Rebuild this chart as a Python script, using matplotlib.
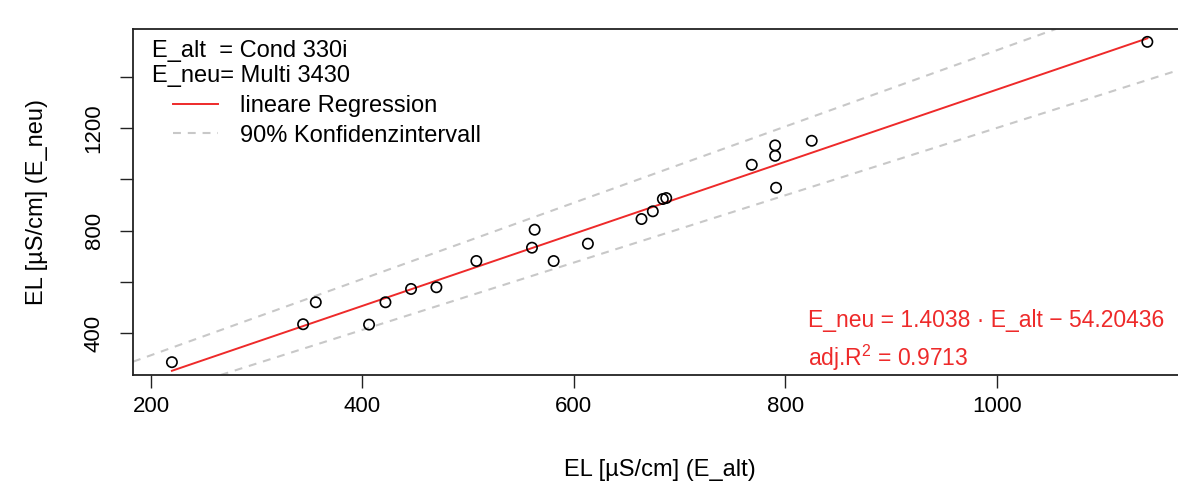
import matplotlib
matplotlib.use('Agg')
import matplotlib.pyplot as plt
import numpy as np
from matplotlib.lines import Line2D

plt.rcParams['font.family'] = ['Liberation Sans', 'DejaVu Sans']
plt.rcParams['mathtext.fontset'] = 'custom'
plt.rcParams['mathtext.rm'] = 'Liberation Sans'
plt.rcParams['mathtext.it'] = 'Liberation Sans:italic'

# Messwerte: EL alt (Cond 330i) vs. EL neu (Multi 3430)
e_alt = [219.8, 343.9, 355.9, 406.3, 421.8, 446.0, 470.0, 507.8, 560.4, 562.9, 580.9,
         613.3, 664.0, 674.7, 684.2, 687.4, 768.3, 790.4, 790.4, 791.3, 825.0, 1142.5]
e_neu = [288.0, 435.8, 521.4, 434.3, 521.4, 573.2, 579.8, 682.2, 734.0, 804.0, 682.0,
         749.6, 845.7, 875.7, 923.6, 927.4, 1057.0, 1132.6, 1092.0, 967.5, 1150.5, 1535.9]

# lineare Regression (Koeffizienten aus der Grafik)
slope = 1.4038
intercept = -54.20436
adj_r2 = 0.9713

ci_upper = (1.485, 18.0)
ci_lower = (1.311, -110.6)

x_ticks = [200, 400, 600, 800, 1000]
y_ticks = [400, 600, 800, 1000, 1200, 1400]
y_ticklabels = ['400', '', '800', '', '1200', '']

red = '#ee2a2a'
grey = '#c8c8c8'

W, H = 1178, 486
fig = plt.figure(figsize=(W / 100, H / 100), dpi=100)
ax = fig.add_axes([133 / W, 111 / H, 1054 / W, 346 / H])

for sl, ic in (ci_upper, ci_lower):
    ax.axline((0, ic), slope=sl, color=grey, lw=1.5, dashes=(3.8, 3.3), zorder=1)

xs = np.array([min(e_alt), max(e_alt)])
ax.plot(xs, slope * xs + intercept, color=red, lw=1.4, zorder=2)

ax.scatter(e_alt, e_neu, s=55, facecolors='none', edgecolors='black', linewidths=1.2, zorder=3)

ax.set_xlim(183, 1180)
ax.set_ylim(238, 1586)
ax.set_xticks(x_ticks)
ax.set_xticklabels([str(v) for v in x_ticks], fontsize=16)
ax.set_yticks(y_ticks)
ax.set_yticklabels(y_ticklabels, fontsize=16, rotation=90, va='center')
ax.tick_params(axis='both', direction='out', length=9.4, width=1.0, color='#222222')
ax.tick_params(axis='x', pad=6)
ax.tick_params(axis='y', pad=11)
for sp in ax.spines.values():
    sp.set_linewidth(1.3)
    sp.set_color('#222222')

ax.set_xlabel('EL [µS/cm] (E_alt)', fontsize=17, labelpad=30)
ax.set_ylabel('EL [µS/cm] (E_neu)', fontsize=17, labelpad=26)

# Legende
fig.text(152 / W, 1 - 57.5 / H, 'E_alt  = Cond 330i', fontsize=17, va='baseline')
fig.text(152 / W, 1 - 82 / H, 'E_neu= Multi 3430', fontsize=17, va='baseline')
handles = [Line2D([], [], color=red, lw=1.4),
           Line2D([], [], color=grey, lw=1.5, dashes=(3.8, 3.3))]
ax.legend(handles, ['lineare Regression', '90% Konfidenzintervall'],
          loc='upper left', bbox_to_anchor=(173 / W, 1 - 95 / H), bbox_transform=fig.transFigure,
          frameon=False, fontsize=17, handlelength=1.9, handletextpad=0.93,
          borderpad=0, borderaxespad=0, labelspacing=0.32)

# Gleichung
fig.text(808 / W, 1 - 326.7 / H, f'E_neu = {slope} · E_alt − {abs(intercept)}',
         fontsize=16.5, color=red, va='baseline')
fig.text(808 / W, 1 - 366 / H, f'adj.R$^2$ = {adj_r2}', fontsize=16.5, color=red, va='baseline')

fig.savefig('out.png', dpi=100)
